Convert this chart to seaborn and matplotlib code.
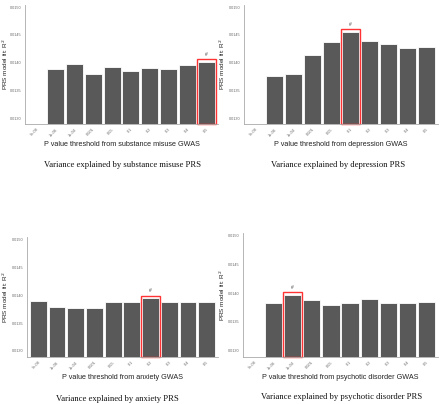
import matplotlib
matplotlib.use("Agg")
import matplotlib.pyplot as plt
import seaborn as sns
import pandas as pd
import numpy as np

sns.set_style("white")
plt.rcParams['font.family'] = ['Liberation Sans', 'DejaVu Sans']

thresholds = ["5e-08", "1e-06", "1e-04", "0.001", "0.05", "0.1", "0.2", "0.3", "0.4", "0.5"]

substance_r2 = [0.01280, 0.01388, 0.01398, 0.01380, 0.01392, 0.01384, 0.01391, 0.01388, 0.01396, 0.01401]
depression_r2 = [0.01280, 0.01375, 0.01380, 0.01413, 0.01437, 0.01456, 0.01439, 0.01433, 0.01427, 0.01428]
anxiety_r2 = [0.01390, 0.01379, 0.01377, 0.01377, 0.01388, 0.01387, 0.01394, 0.01387, 0.01388, 0.01388]
psychotic_r2 = [0.01280, 0.01383, 0.01397, 0.01388, 0.01380, 0.01383, 0.01390, 0.01383, 0.01382, 0.01385]

best_threshold = ["0.5", "0.1", "0.2", "1e-04"]
gwas_names = ["substance misuse", "depression", "anxiety", "psychotic disorder"]
series = [substance_r2, depression_r2, anxiety_r2, psychotic_r2]

y_ticks = [0.0130, 0.0135, 0.0140, 0.0145, 0.0150]
y_low, y_high = 0.012892, 0.015040

W, H = 440, 404
fig = plt.figure(figsize=(W / 100, H / 100), dpi=100)

# (left, right, top, bottom) in pixels
boxes = [(25, 218, 5, 124), (244, 438, 5, 124), (27, 218, 237, 357), (243, 438, 233, 357)]
ylabel_x = [10.0, 227.0, 10.0, 226.5]
caption_pos = [(122, 165), (338, 165), (117, 399), (342, 397)]

for i in range(4):
    l, r, t, b = boxes[i]
    ax = fig.add_axes([l / W, 1 - b / H, (r - l) / W, (b - t) / H])
    df = pd.DataFrame({"threshold": thresholds, "r2": series[i]})
    sns.barplot(data=df, x="threshold", y="r2", order=thresholds, color="#595959",
                saturation=1, width=0.9, edgecolor="white", linewidth=0.6, ax=ax)
    ax.set_ylim(y_low, y_high)
    ax.set_xlim(-0.6, len(thresholds) - 0.4)
    ax.set_yticks(y_ticks)
    ax.set_yticklabels([f"{v:.4f}" for v in y_ticks], fontsize=2.7, color="#666666")
    ax.set_xticks(range(len(thresholds)))
    ax.set_xticklabels(thresholds, rotation=45, ha="right", rotation_mode="anchor",
                       fontsize=2.8, color="#666666")
    ax.tick_params(axis="both", length=1.2, width=0.4, color="#888888", pad=1.2)
    for s in ["top", "right"]:
        ax.spines[s].set_visible(False)
    for s in ["left", "bottom"]:
        ax.spines[s].set_color("#aaaaaa")
        ax.spines[s].set_linewidth(0.6)
    ax.set_xlabel(f"P value threshold from {gwas_names[i]} GWAS", fontsize=5.2, labelpad=2.5, color="#222222")
    ax.set_ylabel("PRS model fit: R$^2$", fontsize=4.6, color="#222222")
    ax.yaxis.set_label_coords((ylabel_x[i] - l) / (r - l), 0.5)

    bi = thresholds.index(best_threshold[i])
    bv = series[i][bi]
    ax.bar(bi, bv + 0.00005 - y_low, bottom=y_low, width=1.0, fill=False,
           edgecolor="#ff3333", linewidth=1.0, clip_on=False)
    ax.text(bi, bv + 0.00009, "#", ha="center", va="bottom", fontsize=3.5, color="#444444")

    cx, cy = caption_pos[i]
    fig.text(cx / W, 1 - cy / H, f"Variance explained by {gwas_names[i]} PRS",
             ha="center", va="center", fontsize=6.2, family=["Liberation Serif", "DejaVu Serif"],
             color="#111111")

fig.savefig("out.png", dpi=100, facecolor="white")
